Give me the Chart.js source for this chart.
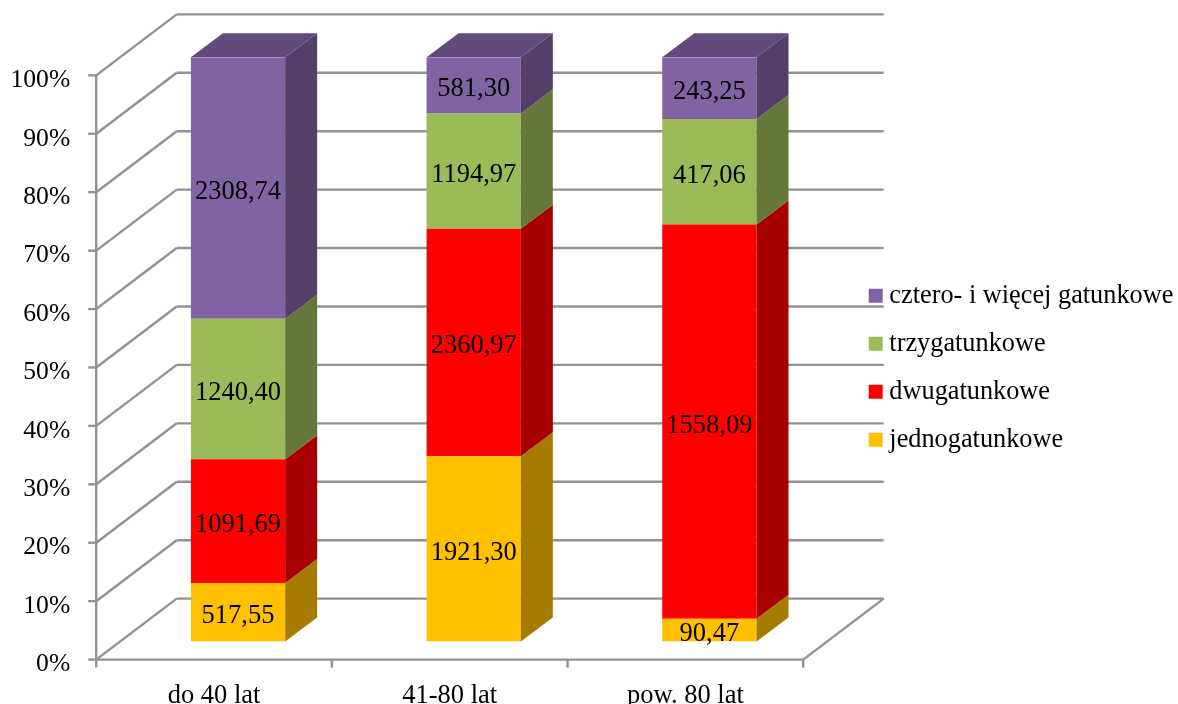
<!DOCTYPE html>
<html>
<head>
<meta charset="utf-8">
<title>Udział drzewostanów wg liczby gatunków</title>
<style>
  html, body { margin: 0; padding: 0; background: #fff; }
  canvas { display: block; }
</style>
<script src="https://cdn.jsdelivr.net/npm/chart.js@4/dist/chart.umd.min.js"></script>
</head>
<body>
<canvas id="chart" width="1178" height="704"></canvas>
<script>
const categories = ['do 40 lat', '41-80 lat', 'pow. 80 lat'];
const seriesNames = ['jednogatunkowe', 'dwugatunkowe', 'trzygatunkowe', 'cztero- i więcej gatunkowe'];
const jedno = [517.55, 1921.30, 90.47];
const dwu = [1091.69, 2360.97, 1558.09];
const trzy = [1240.40, 1194.97, 417.06];
const cztero = [2308.74, 581.30, 243.25];

const frontColors = ['#FFC000', '#FF0000', '#9BBB59', '#8064A2'];
const sideColors = ['#A67C00', '#A60000', '#65773A', '#533F6A'];
const topColor = '#614A7C';
const gridColor = '#929292';
const serif = '"Liberation Serif", "Times New Roman", serif';

const rawSeries = [jedno, dwu, trzy, cztero];
const totals = categories.map((_, i) => rawSeries.reduce((sum, s) => sum + s[i], 0));

// depth of the bars and of the floor, relative to the plot area
const barDepth = { x: 32, y: -24 };
const wallFront = { x: -24, y: 18 };
const wallBack = { x: 56.5, y: -43 };

function line(ctx, x1, y1, x2, y2) {
  ctx.beginPath();
  ctx.moveTo(x1, y1);
  ctx.lineTo(x2, y2);
  ctx.stroke();
}

function face(ctx, color, points) {
  ctx.fillStyle = color;
  ctx.beginPath();
  points.forEach(([x, y], i) => i ? ctx.lineTo(x, y) : ctx.moveTo(x, y));
  ctx.closePath();
  ctx.fill();
}

const walls3d = {
  id: 'walls3d',
  beforeDatasetsDraw(chart) {
    const { ctx, chartArea: area, scales } = chart;
    const left = area.left + wallFront.x;
    const right = area.right + wallFront.x;
    const backLeft = area.left + wallBack.x;
    const backRight = area.right + wallBack.x;
    ctx.save();
    ctx.strokeStyle = gridColor;
    ctx.lineWidth = 2.4;
    scales.y.ticks.forEach(t => {
      const y = scales.y.getPixelForValue(t.value);
      line(ctx, left - 8, y + wallFront.y, left, y + wallFront.y);
      line(ctx, left, y + wallFront.y, backLeft, y + wallBack.y);
      line(ctx, backLeft, y + wallBack.y, backRight, y + wallBack.y);
    });
    const y0 = scales.y.getPixelForValue(0);
    const y100 = scales.y.getPixelForValue(100);
    line(ctx, left, y100 + wallFront.y, left, y0 + wallFront.y + 8);
    line(ctx, left, y0 + wallFront.y, right, y0 + wallFront.y);
    line(ctx, right, y0 + wallFront.y, backRight, y0 + wallBack.y);
    categories.forEach((_, i) => {
      const x = left + (i + 1) * area.width / categories.length;
      line(ctx, x, y0 + wallFront.y, x, y0 + wallFront.y + 8);
    });
    ctx.restore();
  }
};

const bars3d = {
  id: 'bars3d',
  afterDatasetsDraw(chart) {
    const { ctx } = chart;
    const last = rawSeries.length - 1;
    ctx.save();
    rawSeries.forEach((raw, d) => {
      chart.getDatasetMeta(d).data.forEach((bar, i) => {
        const l = bar.x - bar.width / 2;
        const r = bar.x + bar.width / 2;
        face(ctx, sideColors[d], [
          [r, bar.y], [r + barDepth.x, bar.y + barDepth.y],
          [r + barDepth.x, bar.base + barDepth.y], [r, bar.base]
        ]);
        if (d === last) {
          face(ctx, topColor, [
            [l, bar.y], [l + barDepth.x, bar.y + barDepth.y],
            [r + barDepth.x, bar.y + barDepth.y], [r, bar.y]
          ]);
        }
      });
    });
    // value labels use the source figures with a decimal comma
    ctx.fillStyle = '#000';
    ctx.font = '26.5px ' + serif;
    ctx.textAlign = 'center';
    ctx.textBaseline = 'middle';
    rawSeries.forEach((raw, d) => {
      chart.getDatasetMeta(d).data.forEach((bar, i) => {
        ctx.fillText(raw[i].toFixed(2).replace('.', ','), bar.x, (bar.y + bar.base) / 2 + 4);
      });
    });
    ctx.restore();
  }
};

// the legend sits in the free strip to the right of the plot
const legendPlacer = {
  id: 'legendPlacer',
  afterLayout(chart) {
    const legend = chart.legend;
    legend.left = 853.5;
    legend.top = 261;
    legend.right = legend.left + legend.width;
    legend.bottom = legend.top + legend.height;
  }
};

new Chart(document.getElementById('chart'), {
  type: 'bar',
  data: {
    labels: categories,
    datasets: seriesNames.map((name, d) => ({
      label: name,
      data: rawSeries[d].map((v, i) => v / totals[i] * 100),
      backgroundColor: frontColors[d],
      borderWidth: 0,
      barPercentage: 0.4,
      categoryPercentage: 1
    }))
  },
  options: {
    responsive: false,
    animation: false,
    layout: { padding: { top: 53.6, right: 350.8, left: 0, bottom: 0 } },
    plugins: {
      tooltip: { enabled: false },
      legend: {
        position: 'chartArea',
        align: 'start',
        reverse: true,
        labels: {
          usePointStyle: true,
          pointStyle: 'rect',
          boxWidth: 1,
          boxHeight: 14,
          padding: 21.7,
          color: '#000',
          font: { family: serif, size: 26.3 }
        }
      }
    },
    scales: {
      x: {
        stacked: true,
        grid: { display: false },
        border: { display: false },
        afterFit(scale) { scale.height = 62.4; },
        ticks: {
          color: '#000',
          font: { family: serif, size: 26.5 },
          padding: 30.5,
          labelOffset: wallFront.x,
          maxRotation: 0,
          autoSkip: false
        }
      },
      y: {
        stacked: true,
        min: 0,
        max: 100,
        grid: { display: false },
        border: { display: false },
        afterFit(scale) { scale.width = 120.2; },
        ticks: {
          stepSize: 10,
          color: '#000',
          font: { family: serif, size: 25.6 },
          padding: 42,
          labelOffset: 23,
          callback: v => v + '%'
        }
      }
    }
  },
  plugins: [walls3d, bars3d, legendPlacer]
});
</script>
</body>
</html>
